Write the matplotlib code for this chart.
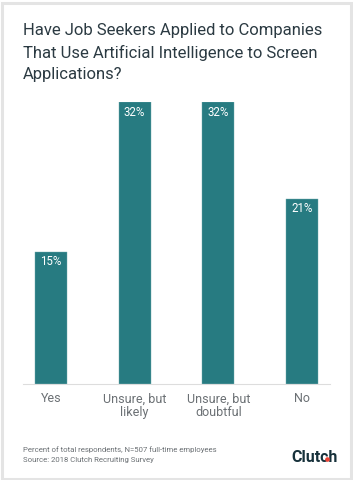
import matplotlib
matplotlib.use("Agg")
import matplotlib.pyplot as plt
from matplotlib.patches import Rectangle, Ellipse

plt.rcParams.update({"font.family": ["Roboto", "DejaVu Sans"]})

CATEGORIES = ["Yes", "Unsure, but\nlikely", "Unsure, but\ndoubtful", "No"]
VALUES = [15, 32, 32, 21]

TEAL = "#277b81"; INK = "#2b3a42"; MUTE = "#6b7074"; AXIS = "#dddddd"

W, H = 353, 480
fig = plt.figure(figsize=(W / 100, H / 100), dpi=100)
fig.patch.set_facecolor("white")

def px(x, y):
    return x / W, 1 - y / H

# light frame around the card
fig.patches.append(Rectangle((1.5 / W, 1.5 / H), (W - 4) / W, (H - 4) / H,
                             transform=fig.transFigure, fill=False,
                             edgecolor="#e4e4e4", lw=2.2))

# axes: baseline at y=384, 32% at y=102
x0, x1, yb, yt = 23, 330, 384, 102
ax = fig.add_axes([x0 / W, 1 - yb / H, (x1 - x0) / W, (yb - yt) / H])
xs = list(range(len(CATEGORIES)))
bars = ax.bar(xs, VALUES, width=0.38, color=TEAL, edgecolor="#6fa9ad", lw=0.3)
ax.set_xlim(-0.335, 3.335)
ax.set_ylim(0, 32)
for b, v in zip(bars, VALUES):
    ax.annotate(f"{v}%", (b.get_x() + b.get_width() / 2, v), xytext=(0, -10),
                textcoords="offset pixels", ha="center", va="center",
                color="white", fontsize=8.3)

ax.set_xticks(xs)
ax.set_xticklabels(CATEGORIES, fontsize=9, color=MUTE, linespacing=1.1)
ax.tick_params(axis="x", length=0, pad=6)
ax.set_yticks([])
for s in ["top", "right", "left"]:
    ax.spines[s].set_visible(False)
ax.spines["bottom"].set_color(AXIS)
ax.spines["bottom"].set_linewidth(0.8)

# title
title = ["Have Job Seekers Applied to Companies",
         "That Use Artificial Intelligence to Screen",
         "Applications?"]
for i, line in enumerate(title):
    fig.text(*px(23, 31 + 22 * i), line, ha="left", va="center",
             fontsize=12, color=INK)

# footnotes
fig.text(*px(23, 450), "Percent of total respondents, N=507 full-time employees",
         ha="left", va="center", fontsize=5.6, color=MUTE)
fig.text(*px(23, 460), "Source: 2018 Clutch Recruiting Survey",
         ha="left", va="center", fontsize=5.6, color=MUTE)

# logo
fig.text(*px(338, 458), "Clutch", ha="right", va="center", fontsize=11.5,
         fontweight="bold", color="#17313b")
fig.patches.append(Ellipse(px(327.5, 459.5), 3.2 / W, 3.2 / H,
                           transform=fig.transFigure, color="#ef4335", zorder=5))

fig.savefig("out.png", dpi=100, facecolor="white")
